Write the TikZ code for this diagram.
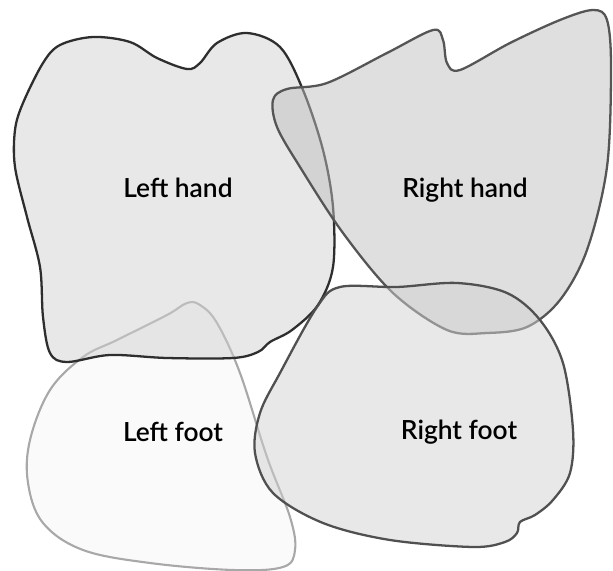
\documentclass[tikz,border=0pt]{standalone}
\usepackage{fontspec}
\setmainfont{Lato}[BoldFont={Lato Semibold}]
\definecolor{ink}{HTML}{000000}
\definecolor{lhline}{HTML}{2E2E2E}
\definecolor{rhline}{HTML}{555555}
\definecolor{lfline}{HTML}{A8A8A8}
\definecolor{rfline}{HTML}{505050}

\begin{document}
\begin{tikzpicture}[x=0.02cm,y=-0.02cm,line join=round,
    font=\fontsize{15}{17}\selectfont\bfseries,
    blob/.style={line width=1.3pt,fill opacity=0.5},
    tag/.style={ink,inner sep=0pt}]
  \useasboundingbox (0,0) rectangle (613,571);

  % left foot (lowest)
  \draw[blob,draw=lfline,fill=white!96!black,line width=1.2pt]
    plot[smooth cycle,tension=0.6] coordinates {
      (187,303) (167,315) (117,340) (83,357) (50,390) (30,440) (28,483)
      (43,523) (83,550) (150,563) (233,570) (283,567) (295,550) (290,517)
      (267,457) (240,373) (217,323) (200,305)};

  % left hand
  \draw[blob,draw=lhline,fill=white!82!black]
    plot[smooth cycle,tension=0.55] coordinates {
      (93,37) (130,42) (157,58) (187,69) (200,63) (217,43) (247,33)
      (280,47) (303,90) (323,150) (333,207) (333,267) (318,305) (292,330)
      (270,342) (258,352) (233,358) (167,358) (110,355) (67,362) (50,353)
      (43,317) (40,267) (27,217) (15,167) (15,130) (23,103) (43,63) (60,45)};

  % right hand
  \draw[blob,draw=rhline,fill=white!75!black]
    plot[smooth cycle,tension=0.55] coordinates {
      (287,89) (327,83) (387,53) (433,30) (443,40) (447,63) (460,70)
      (510,43) (560,20) (593,10) (607,20) (611,67) (607,167) (587,250)
      (560,300) (527,327) (487,333) (447,330) (393,293) (343,233)
      (300,167) (277,127) (273,100)};

  % right foot (top)
  \draw[blob,draw=rfline,fill=white!82!black]
    plot[smooth cycle,tension=0.55] coordinates {
      (340,287) (397,287) (457,283) (507,293) (540,320) (563,363) (573,430)
      (570,473) (553,500) (535,515) (520,522) (517,533) (505,542) (473,547)
      (390,540) (323,523) (273,493) (255,453) (260,413) (280,373) (317,307)};

  \node[tag] (lhand) at (178,188) {Left hand};
  \node[tag] (rhand) at (465,190) {Right hand};
  \node[tag] (lfoot) at (173,432) {Left foot};
  \node[tag] (rfoot) at (459,432) {Right foot};
\end{tikzpicture}
\end{document}
